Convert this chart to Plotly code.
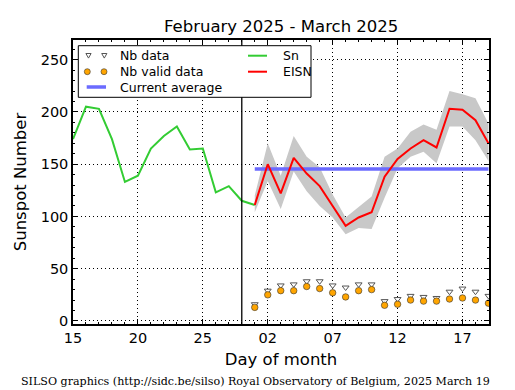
import plotly.graph_objects as go
import pandas as pd

# ---------------- data ----------------
sn_dates = pd.date_range("2025-02-15", "2025-03-01", freq="D")
sn_values = [174, 205, 203, 174, 133, 139, 165, 177, 186, 164, 165, 123, 129, 115, 111]

eisn_dates = pd.date_range("2025-03-01", "2025-03-19", freq="D")
eisn_values = [111, 150, 122, 156, 141, 129, 110, 91, 99, 104, 138, 155, 165, 173, 166, 203, 202, 192, 170]
eisn_upper = [120, 170, 139, 177, 157, 147, 121, 99, 109, 119, 157, 165, 181, 188, 183, 220, 217, 213, 189]
eisn_lower = [104, 134, 107, 143, 124, 110, 99, 83, 89, 88, 118, 146, 157, 162, 151, 186, 186, 173, 153]

nb_data = [16, 29, 34, 35, 38, 38, 34, 32, 35, 35, 19, 21, 24, 23, 22, 28, 31, 28, 24]
nb_valid = [13, 25, 29, 29, 33, 31, 27, 23, 29, 30, 15, 16, 20, 19, 19, 21, 22, 20, 17]

current_average = 145.5
avg_dates = ["2025-03-01", "2025-03-19"]
month_boundary = "2025-02-28"

x_range = ["2025-02-15", "2025-03-19 01:00"]
y_range = [-2.9, 268.8]

# ---------------- figure ----------------
# the page body has an 8px margin; the figure is sized so it fits the 515x390 window
OFF = 8
W, H = 515 - OFF, 390 - OFF
ML, MR, MT, MB = 73 - OFF, 26, 40 - OFF, 66
PW, PH = W - ML - MR, H - MT - MB

# convert absolute window pixel positions to paper coordinates
def px(x):
    return (x - OFF - ML) / PW

def py(y):
    return (H - MB - (y - OFF)) / PH

fig = go.Figure()

# grey uncertainty band
fig.add_trace(go.Scatter(x=eisn_dates, y=eisn_lower, mode="lines",
                         line=dict(width=0, color="#c8c8c8"), hoverinfo="skip",
                         showlegend=False))
fig.add_trace(go.Scatter(x=eisn_dates, y=eisn_upper, mode="lines", fill="tonexty",
                         fillcolor="#c8c8c8", line=dict(width=0, color="#c8c8c8"),
                         hoverinfo="skip", showlegend=False))

# current average
fig.add_trace(go.Scatter(x=avg_dates, y=[current_average] * len(avg_dates), mode="lines",
                         line=dict(color="#6b6bff", width=3.5), showlegend=False))

# Sn
fig.add_trace(go.Scatter(x=sn_dates, y=sn_values, mode="lines",
                         line=dict(color="#33cc33", width=2), showlegend=False))
# EISN
fig.add_trace(go.Scatter(x=eisn_dates, y=eisn_values, mode="lines",
                         line=dict(color="#ff0000", width=2), showlegend=False))

# Nb data / Nb valid data
fig.add_trace(go.Scatter(x=eisn_dates, y=nb_data, mode="markers",
                         marker=dict(symbol="triangle-down", size=6, color="white",
                                     line=dict(color="#555555", width=1)),
                         showlegend=False))
fig.add_trace(go.Scatter(x=eisn_dates, y=nb_valid, mode="markers",
                         marker=dict(symbol="circle", size=6.5, color="#ffa500",
                                     line=dict(color="#333333", width=0.6)),
                         showlegend=False))

shapes = []
annotations = []

# month boundary line
shapes.append(dict(type="line", xref="x", yref="paper", x0=month_boundary, x1=month_boundary,
                   y0=0, y1=1, line=dict(color="black", width=1.3)))

# ---------------- manual legend ----------------
shapes.append(dict(type="rect", xref="paper", yref="paper",
                   x0=px(78.3), x1=px(311), y0=py(97.3), y1=py(45.7),
                   line=dict(color="black", width=1), fillcolor="white", layer="above"))

leg_font = dict(family="DejaVu Sans", size=12.5, color="black")
rows = [55.7, 71.7, 87.0]
# triangles
for cx in (88.5, 104.3):
    cy = rows[0]
    path = "M {} {} L {} {} L {} {} Z".format(px(cx - 2.6), py(cy - 2.2), px(cx + 2.6), py(cy - 2.2),
                                             px(cx), py(cy + 2.4))
    shapes.append(dict(type="path", xref="paper", yref="paper", path=path,
                       line=dict(color="#555555", width=1), fillcolor="white", layer="above"))
# circles
for cx in (87.3, 104.0):
    cy = rows[1]
    shapes.append(dict(type="circle", xref="paper", yref="paper",
                       x0=px(cx - 3), x1=px(cx + 3), y0=py(cy + 3), y1=py(cy - 3),
                       line=dict(color="#333333", width=0.6), fillcolor="#ffa500", layer="above"))
# lines
shapes.append(dict(type="line", xref="paper", yref="paper", x0=px(86.7), x1=px(106),
                   y0=py(rows[2]), y1=py(rows[2]), line=dict(color="#6b6bff", width=3.5), layer="above"))
shapes.append(dict(type="line", xref="paper", yref="paper", x0=px(248), x1=px(267),
                   y0=py(rows[0]), y1=py(rows[0]), line=dict(color="#33cc33", width=2), layer="above"))
shapes.append(dict(type="line", xref="paper", yref="paper", x0=px(248), x1=px(267),
                   y0=py(rows[1]), y1=py(rows[1]), line=dict(color="#ff0000", width=2), layer="above"))

for txt, x, y in [("Nb data", 118, rows[0]), ("Nb valid data", 118, rows[1]),
                  ("Current average", 118, rows[2]), ("Sn", 280.5, rows[0]), ("EISN", 280.5, rows[1])]:
    annotations.append(dict(text=txt, xref="paper", yref="paper", x=px(x), y=py(y),
                            xanchor="left", yanchor="middle", showarrow=False, font=leg_font))

# title & caption
annotations.append(dict(text="February 2025 - March 2025", xref="paper", yref="paper",
                        x=px(281), y=py(26.5), xanchor="center", yanchor="middle", showarrow=False,
                        font=dict(family="DejaVu Sans", size=16.5, color="black")))
annotations.append(dict(text="SILSO graphics (http://sidc.be/silso) Royal Observatory of Belgium, 2025 March 19",
                        xref="paper", yref="paper", x=px(255), y=py(381.5), xanchor="center",
                        yanchor="middle", showarrow=False,
                        font=dict(family="DejaVu Serif", size=11.1, color="black")))

axis_common = dict(showline=True, linecolor="black", linewidth=1.5, mirror="allticks",
                   ticks="inside", tickcolor="black", ticklen=5, tickwidth=1,
                   showgrid=True, gridcolor="black", gridwidth=0.7, griddash="1px,3px",
                   zeroline=False, tickfont=dict(family="DejaVu Sans", size=14.5, color="black"))

fig.update_layout(
    width=W, height=H,
    margin=dict(l=ML, r=MR, t=MT, b=MB, pad=0),
    paper_bgcolor="white", plot_bgcolor="white",
    shapes=shapes, annotations=annotations, showlegend=False,
    xaxis=dict(axis_common, type="date", range=x_range, tick0="2025-02-15",
               dtick=5 * 86400000, tickformat="%d",
               minor=dict(dtick=86400000, ticks="inside", ticklen=2.5, tickcolor="black", showgrid=False),
               title=dict(text="Day of month", font=dict(family="DejaVu Sans", size=16.5, color="black"),
                          standoff=8)),
    yaxis=dict(axis_common, range=y_range, tick0=0, dtick=50,
               minor=dict(dtick=10, ticks="inside", ticklen=2.5, tickcolor="black", showgrid=False),
               title=dict(text="Sunspot Number", font=dict(family="DejaVu Sans", size=16.5, color="black"),
                          standoff=10)),
)

fig.write_html("out.html")
